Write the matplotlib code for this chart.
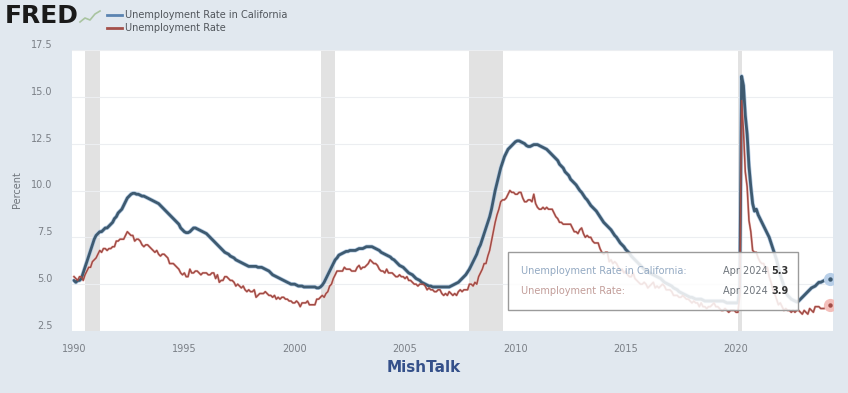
import matplotlib
matplotlib.use("Agg")
import matplotlib.pyplot as plt
import matplotlib.patches as mpatches
import numpy as np

# ---------------- data (monthly, Jan 1990 - Apr 2024) ----------------
start_year = 1990
ca_rate = [
    5.2, 5.1, 5.2, 5.2, 5.3, 5.6, 5.9, 6.2, 6.5, 6.8, 7.1, 7.4,          # 1990
    7.6, 7.7, 7.8, 7.8, 7.9, 8.0, 8.0, 8.1, 8.2, 8.3, 8.5, 8.6,          # 1991
    8.8, 8.9, 9.0, 9.2, 9.4, 9.6, 9.7, 9.8, 9.85, 9.85, 9.8, 9.8,        # 1992
    9.75, 9.7, 9.7, 9.65, 9.6, 9.55, 9.5, 9.45, 9.4, 9.35, 9.3, 9.2,     # 1993
    9.1, 9.0, 8.9, 8.8, 8.7, 8.6, 8.5, 8.4, 8.3, 8.2, 8.0, 7.9,          # 1994
    7.8, 7.75, 7.75, 7.8, 7.9, 8.0, 8.0, 7.95, 7.9, 7.85, 7.8, 7.75,     # 1995
    7.7, 7.6, 7.5, 7.4, 7.3, 7.2, 7.1, 7.0, 6.9, 6.8, 6.7, 6.65,         # 1996
    6.6, 6.5, 6.45, 6.4, 6.3, 6.25, 6.2, 6.15, 6.1, 6.05, 6.0, 5.95,     # 1997
    5.95, 5.95, 5.95, 5.95, 5.9, 5.9, 5.9, 5.85, 5.8, 5.75, 5.7, 5.6,    # 1998
    5.5, 5.45, 5.4, 5.35, 5.3, 5.25, 5.2, 5.15, 5.1, 5.05, 5.0, 5.0,     # 1999
    5.0, 4.95, 4.9, 4.9, 4.9, 4.85, 4.85, 4.85, 4.85, 4.85, 4.85, 4.85,  # 2000
    4.8, 4.8, 4.85, 4.95, 5.1, 5.3, 5.5, 5.7, 5.9, 6.1, 6.3, 6.4,        # 2001
    6.55, 6.6, 6.65, 6.7, 6.75, 6.75, 6.8, 6.8, 6.8, 6.8, 6.85, 6.9,     # 2002
    6.9, 6.9, 6.95, 7.0, 7.0, 7.0, 7.0, 6.95, 6.9, 6.85, 6.8, 6.7,       # 2003
    6.65, 6.6, 6.55, 6.5, 6.45, 6.35, 6.3, 6.2, 6.1, 6.0, 5.95, 5.9,     # 2004
    5.8, 5.7, 5.6, 5.55, 5.5, 5.4, 5.3, 5.25, 5.2, 5.1, 5.05, 5.0,       # 2005
    4.95, 4.9, 4.9, 4.85, 4.85, 4.85, 4.85, 4.85, 4.85, 4.85, 4.85, 4.85,  # 2006
    4.85, 4.9, 4.95, 5.0, 5.05, 5.1, 5.2, 5.3, 5.4, 5.5, 5.65, 5.8,      # 2007
    6.0, 6.2, 6.4, 6.6, 6.9, 7.1, 7.4, 7.7, 8.0, 8.3, 8.6, 9.0,          # 2008
    9.5, 10.0, 10.4, 10.8, 11.2, 11.5, 11.8, 12.0, 12.2, 12.3, 12.4, 12.5,  # 2009
    12.6, 12.65, 12.65, 12.6, 12.55, 12.5, 12.4, 12.35, 12.35, 12.4, 12.45, 12.45,  # 2010
    12.45, 12.4, 12.35, 12.3, 12.25, 12.2, 12.1, 12.0, 11.9, 11.8, 11.7, 11.6,     # 2011
    11.4, 11.3, 11.2, 11.0, 10.9, 10.8, 10.6, 10.5, 10.4, 10.3, 10.15, 10.0,       # 2012
    9.9, 9.75, 9.6, 9.5, 9.35, 9.2, 9.1, 9.0, 8.9, 8.75, 8.6, 8.45,      # 2013
    8.3, 8.2, 8.1, 8.0, 7.9, 7.75, 7.6, 7.5, 7.35, 7.2, 7.1, 7.0,        # 2014
    6.85, 6.75, 6.65, 6.5, 6.4, 6.3, 6.2, 6.1, 6.0, 5.9, 5.8, 5.75,      # 2015
    5.7, 5.6, 5.55, 5.5, 5.45, 5.4, 5.35, 5.3, 5.2, 5.1, 5.05, 5.0,      # 2016
    4.95, 4.9, 4.8, 4.75, 4.7, 4.6, 4.55, 4.5, 4.45, 4.4, 4.35, 4.3,     # 2017
    4.3, 4.25, 4.2, 4.2, 4.2, 4.2, 4.15, 4.1, 4.1, 4.1, 4.1, 4.1,        # 2018
    4.1, 4.1, 4.1, 4.1, 4.1, 4.1, 4.05, 4.0, 4.0, 4.0, 4.0, 4.0,         # 2019
    4.0, 4.0, 4.8, 16.1, 15.6, 14.0, 13.0, 11.3, 10.2, 9.3, 8.9, 9.0,    # 2020
    8.7, 8.5, 8.3, 8.1, 7.9, 7.7, 7.5, 7.2, 6.9, 6.6, 6.3, 5.9,          # 2021
    5.5, 5.2, 4.9, 4.6, 4.4, 4.3, 4.2, 4.15, 4.1, 4.05, 4.1, 4.2,        # 2022
    4.3, 4.4, 4.5, 4.6, 4.7, 4.8, 4.85, 4.9, 5.0, 5.1, 5.1, 5.15,        # 2023
    5.2, 5.25, 5.3, 5.3,                                                 # 2024
]
us_rate = [
    5.4, 5.3, 5.2, 5.4, 5.4, 5.2, 5.5, 5.7, 5.9, 5.9, 6.2, 6.3,   # 1990
    6.4, 6.6, 6.8, 6.7, 6.9, 6.9, 6.8, 6.9, 6.9, 7.0, 7.0, 7.3,   # 1991
    7.3, 7.4, 7.4, 7.4, 7.6, 7.8, 7.7, 7.6, 7.6, 7.3, 7.4, 7.4,   # 1992
    7.3, 7.1, 7.0, 7.1, 7.1, 7.0, 6.9, 6.8, 6.7, 6.8, 6.6, 6.5,   # 1993
    6.6, 6.6, 6.5, 6.4, 6.1, 6.1, 6.1, 6.0, 5.9, 5.8, 5.6, 5.5,   # 1994
    5.6, 5.4, 5.4, 5.8, 5.6, 5.6, 5.7, 5.7, 5.6, 5.5, 5.6, 5.6,   # 1995
    5.6, 5.5, 5.5, 5.6, 5.6, 5.3, 5.5, 5.1, 5.2, 5.2, 5.4, 5.4,   # 1996
    5.3, 5.2, 5.2, 5.1, 4.9, 5.0, 4.9, 4.8, 4.9, 4.7, 4.6, 4.7,   # 1997
    4.6, 4.6, 4.7, 4.3, 4.4, 4.5, 4.5, 4.5, 4.6, 4.5, 4.4, 4.4,   # 1998
    4.3, 4.4, 4.2, 4.3, 4.2, 4.3, 4.3, 4.2, 4.2, 4.1, 4.1, 4.0,   # 1999
    4.0, 4.1, 4.0, 3.8, 4.0, 4.0, 4.0, 4.1, 3.9, 3.9, 3.9, 3.9,   # 2000
    4.2, 4.2, 4.3, 4.4, 4.3, 4.5, 4.6, 4.9, 5.0, 5.3, 5.5, 5.7,   # 2001
    5.7, 5.7, 5.7, 5.9, 5.8, 5.8, 5.8, 5.7, 5.7, 5.7, 5.9, 6.0,   # 2002
    5.8, 5.9, 5.9, 6.0, 6.1, 6.3, 6.2, 6.1, 6.1, 6.0, 5.8, 5.7,   # 2003
    5.7, 5.6, 5.8, 5.6, 5.6, 5.6, 5.5, 5.4, 5.4, 5.5, 5.4, 5.4,   # 2004
    5.3, 5.4, 5.2, 5.2, 5.1, 5.0, 5.0, 4.9, 5.0, 5.0, 5.0, 4.9,   # 2005
    4.7, 4.8, 4.7, 4.7, 4.6, 4.6, 4.7, 4.7, 4.5, 4.4, 4.5, 4.4,   # 2006
    4.6, 4.5, 4.4, 4.5, 4.4, 4.6, 4.7, 4.6, 4.7, 4.7, 4.7, 5.0,   # 2007
    5.0, 4.9, 5.1, 5.0, 5.4, 5.6, 5.8, 6.1, 6.1, 6.5, 6.8, 7.3,   # 2008
    7.8, 8.3, 8.7, 9.0, 9.4, 9.5, 9.5, 9.6, 9.8, 10.0, 9.9, 9.9,  # 2009
    9.8, 9.8, 9.9, 9.9, 9.6, 9.4, 9.4, 9.5, 9.5, 9.4, 9.8, 9.3,   # 2010
    9.1, 9.0, 9.0, 9.1, 9.0, 9.1, 9.0, 9.0, 9.0, 8.8, 8.6, 8.5,   # 2011
    8.3, 8.3, 8.2, 8.2, 8.2, 8.2, 8.2, 8.0, 7.8, 7.8, 7.7, 7.9,   # 2012
    8.0, 7.7, 7.5, 7.6, 7.5, 7.5, 7.3, 7.2, 7.2, 7.2, 6.9, 6.7,   # 2013
    6.6, 6.7, 6.7, 6.2, 6.3, 6.1, 6.2, 6.1, 5.9, 5.7, 5.8, 5.6,   # 2014
    5.7, 5.5, 5.4, 5.4, 5.6, 5.3, 5.2, 5.1, 5.0, 5.0, 5.1, 5.0,   # 2015
    4.8, 4.9, 5.0, 5.1, 4.8, 4.9, 4.8, 4.9, 5.0, 4.9, 4.7, 4.7,   # 2016
    4.7, 4.6, 4.4, 4.4, 4.4, 4.3, 4.3, 4.4, 4.3, 4.2, 4.2, 4.1,   # 2017
    4.0, 4.1, 4.0, 4.0, 3.8, 4.0, 3.8, 3.8, 3.7, 3.8, 3.8, 3.9,   # 2018
    4.0, 3.8, 3.8, 3.7, 3.6, 3.6, 3.7, 3.6, 3.5, 3.6, 3.6, 3.6,   # 2019
    3.5, 3.5, 4.4, 14.8, 13.2, 11.0, 10.2, 8.4, 7.8, 6.8, 6.7, 6.7,  # 2020
    6.4, 6.2, 6.1, 6.1, 5.8, 5.9, 5.4, 5.1, 4.7, 4.5, 4.2, 3.9,   # 2021
    4.0, 3.8, 3.6, 3.7, 3.6, 3.6, 3.5, 3.6, 3.5, 3.6, 3.6, 3.5,   # 2022
    3.4, 3.6, 3.5, 3.4, 3.7, 3.6, 3.5, 3.8, 3.8, 3.8, 3.7, 3.7,   # 2023
    3.7, 3.9, 3.8, 3.9,                                           # 2024
]
recession_starts = [1990.5, 2001.17, 2007.92, 2020.08]
recession_ends = [1991.17, 2001.83, 2009.42, 2020.25]
x_ticks = [1990, 1995, 2000, 2005, 2010, 2015, 2020]
y_ticks = [2.5, 5.0, 7.5, 10.0, 12.5, 15.0, 17.5]
ca_label = "Unemployment Rate in California"
us_label = "Unemployment Rate"
tooltip_date = "Apr 2024"

# ---------------- figure ----------------
W, H = 848, 393
BG = "#e1e8ef"
fig = plt.figure(figsize=(W / 100, H / 100), dpi=100, facecolor=BG)

def fx(px):
    return px / W

def fy(py):
    return 1 - py / H

ax_l, ax_r, ax_t, ax_b = 72, 833, 50, 331
ax = fig.add_axes([fx(ax_l), fy(ax_b), (ax_r - ax_l) / W, (ax_b - ax_t) / H])
ax.set_facecolor("white")
for s in ax.spines.values():
    s.set_visible(False)

t_ca = start_year + np.arange(len(ca_rate)) / 12.0
t_us = start_year + np.arange(len(us_rate)) / 12.0

for a, b in zip(recession_starts, recession_ends):
    ax.axvspan(a, b, color="#e2e2e2", lw=0, zorder=0)

for yv in y_ticks:
    ax.axhline(yv, color="#eceef1", lw=0.8, zorder=0.5)

# California line (faint halo + core)
ax.plot(t_ca, ca_rate, color="#b4cbe3", lw=3.0, solid_capstyle="round", zorder=2)
ax.plot(t_ca, ca_rate, color="#3e5a70", lw=2.0, solid_capstyle="round", zorder=3)
# US line
ax.plot(t_us, us_rate, color="#f2c6c2", lw=1.8, zorder=2)
ax.plot(t_us, us_rate, color="#a14c46", lw=1.1, zorder=3)

# end markers
ax.plot(t_ca[-1], ca_rate[-1], "o", ms=9.5, color="#b8cfe8", mec="none", zorder=4)
ax.plot(t_ca[-1], ca_rate[-1], "o", ms=3.2, color="#3e5a70", mec="none", zorder=5)
ax.plot(t_us[-1], us_rate[-1], "o", ms=9.5, color="#f3bfbb", mec="none", zorder=4)
ax.plot(t_us[-1], us_rate[-1], "o", ms=3.2, color="#a14c46", mec="none", zorder=5)

x_left = 1990 - 2 / 22.07
x_right = 1990 + (ax_r - 74) / 22.07
ax.set_xlim(x_left, x_right)
ax.set_ylim(2.5, 17.5)
ax.set_xticks(x_ticks)
ax.set_xticklabels([str(v) for v in x_ticks])
ax.set_yticks(y_ticks)
ax.set_yticklabels([f"{v:.1f}" for v in y_ticks])
ax.tick_params(axis="both", length=0, labelsize=7, colors="#7a7f86")
ax.tick_params(axis="x", pad=9)
ax.tick_params(axis="y", pad=14)
for lab in ax.get_yticklabels():
    lab.set_verticalalignment("bottom")

fig.text(fx(17), fy(190), "Percent", rotation=90, ha="center", va="center",
         fontsize=7, color="#6f757c")

# FRED logo
fig.text(fx(5), fy(16), "FRED", fontsize=18, fontweight="heavy", color="#1a1a1a",
         ha="left", va="center", family="DejaVu Sans")
xs = [80, 85, 90, 95, 100]
ys = [22, 18, 20, 14, 11]
fig.add_artist(plt.Line2D([fx(v) for v in xs], [fy(v) for v in ys],
                          color="#a9c4a0", lw=1.2))

# legend
fig.add_artist(plt.Line2D([fx(107), fx(122)], [fy(15), fy(15)], color="#5b84b1", lw=2))
fig.add_artist(plt.Line2D([fx(107), fx(122)], [fy(28), fy(28)], color="#a4504a", lw=2))
fig.text(fx(125), fy(15), ca_label, fontsize=7, color="#50555b", va="center", ha="left")
fig.text(fx(125), fy(28), us_label, fontsize=7, color="#50555b", va="center", ha="left")

# tooltip box
box = mpatches.Rectangle((fx(508), fy(310)), fx(798) - fx(508), fy(252) - fy(310),
                         transform=fig.transFigure, facecolor="white", alpha=0.86,
                         edgecolor="none", zorder=5)
fig.add_artist(box)
box_edge = mpatches.Rectangle((fx(508), fy(310)), fx(798) - fx(508), fy(252) - fy(310),
                              transform=fig.transFigure, facecolor="none",
                              edgecolor="#9b9b9b", lw=1.0, zorder=6)
fig.add_artist(box_edge)
fig.text(fx(521), fy(271), ca_label + ":", fontsize=7, color="#93a9c2",
         va="center", ha="left", zorder=7)
fig.text(fx(521), fy(291), us_label + ":", fontsize=7, color="#c29d99",
         va="center", ha="left", zorder=7)
fig.text(fx(768), fy(271), tooltip_date, fontsize=7, color="#6f757c",
         va="center", ha="right", zorder=7)
fig.text(fx(768), fy(291), tooltip_date, fontsize=7, color="#6f757c",
         va="center", ha="right", zorder=7)
fig.text(fx(771), fy(271), f"{ca_rate[-1]:.1f}", fontsize=7, fontweight="bold",
         color="#333333", va="center", ha="left", zorder=7)
fig.text(fx(771), fy(291), f"{us_rate[-1]:.1f}", fontsize=7, fontweight="bold",
         color="#333333", va="center", ha="left", zorder=7)

# caption
fig.text(fx(424), fy(368), "MishTalk", fontsize=11, fontweight="bold",
         color="#34508a", ha="center", va="center")

fig.savefig("out.png", dpi=100, facecolor=BG)
